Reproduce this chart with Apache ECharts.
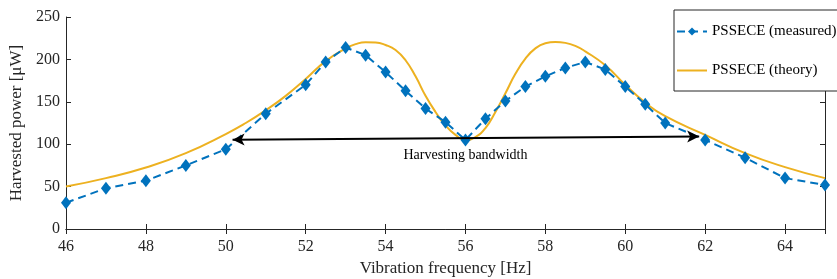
<!DOCTYPE html>
<html lang="en">
<head>
    <meta charset="UTF-8">
    <title>PSSECE harvested power</title>
    <style>
        html,body{
            margin: 0;
            padding: 0;
            width: 100%;
            height: 100%;
            background: #fff;
        }
        #chart{
            width: 837px;
            height: 279px;
        }
    </style>
</head>
<body>
<div id="chart"></div>
<script src="https://cdn.jsdelivr.net/npm/echarts@6/dist/echarts.min.js"></script>
<script type="text/javascript">
    // measured points [Hz, uW]
    var measuredFreq = [46, 47, 48, 49, 50, 51, 52, 52.5, 53, 53.5, 54, 54.5, 55, 55.5, 56, 56.5, 57, 57.5,
        58, 58.5, 59, 59.5, 60, 60.5, 61, 62, 63, 64, 65];
    var measuredPower = [31, 48, 57, 75, 94, 136, 170, 197, 214, 205, 185, 163, 142, 126, 105, 130, 151, 168,
        180, 190, 197, 188, 168, 147, 125, 105, 84, 60, 52];

    // theory curve
    var theoryFreq = [46, 47, 48, 49, 50, 50.5, 51, 51.5, 52, 52.5, 53, 53.25, 53.5, 53.75, 54, 54.25, 54.5, 54.75,
        55, 55.25, 55.5, 55.75, 56, 56.25, 56.5, 56.75, 57, 57.25, 57.5, 57.75, 58, 58.25, 58.5, 58.75,
        59, 59.5, 60, 60.5, 61, 62, 63, 64, 65];
    var theoryPower = [50, 60, 72.5, 89.5, 112, 125, 140, 157, 177, 198, 213, 218, 220.3, 220, 217, 211, 199, 180,
        157, 138, 122, 111, 105, 108.5, 119, 138, 160, 183, 201, 213, 219, 220.5, 219.5, 216,
        209.5, 193, 170, 149, 133, 111, 89.5, 73, 60];

    // bandwidth arrow ends and label
    var bandFrom = [50.17, 105.3];
    var bandTo = [61.85, 109.2];
    var bandLabelAt = [56, 87];

    var xTicks = { min: 46, max: 65, interval: 2 };
    var yTicks = { min: 0, max: 250, interval: 50 };

    function pairs(xs, ys) {
        var out = [];
        for (var i = 0; i < xs.length; i++) {
            out.push([xs[i], ys[i]]);
        }
        return out;
    }

    var fontSerif = '"Liberation Serif", "DejaVu Serif", serif';
    var ink = '#262626';

    var myChart = echarts.init(document.getElementById('chart'));
    var option = {
        backgroundColor: '#fff',
        animation: false,
        grid: { left: 66, right: 12, top: 17, bottom: 50, outerBoundsMode: 'none', containLabel: false },
        legend: {
            orient: 'vertical',
            left: 674,
            top: 10,
            padding: [14, 12, 13, 2],
            itemGap: 24,
            itemWidth: 30,
            itemHeight: 10,
            backgroundColor: '#fff',
            borderColor: ink,
            borderWidth: 1,
            textStyle: { fontFamily: fontSerif, fontSize: 15, color: '#000' },
            data: [
                { name: 'PSSECE (measured)' },
                { name: 'PSSECE (theory)', itemStyle: { opacity: 0 } }
            ]
        },
        xAxis: [
            {
                type: 'value',
                min: xTicks.min,
                max: xTicks.max,
                interval: xTicks.interval,
                name: 'Vibration frequency [Hz]',
                nameLocation: 'middle',
                nameGap: 31,
                nameTextStyle: { fontFamily: fontSerif, fontSize: 17, color: ink },
                axisLine: { show: true, lineStyle: { color: ink, width: 1 } },
                axisTick: { inside: true, length: 5, lineStyle: { color: ink } },
                axisLabel: { fontFamily: fontSerif, fontSize: 16, color: ink, margin: 10, showMaxLabel: false },
                splitLine: { show: false }
            },
            {
                type: 'value',
                position: 'top',
                min: xTicks.min,
                max: xTicks.max,
                interval: xTicks.interval,
                axisLine: { show: true, lineStyle: { color: ink, width: 1 } },
                axisTick: { inside: true, length: 5, lineStyle: { color: ink } },
                axisLabel: { show: false },
                splitLine: { show: false }
            }
        ],
        yAxis: [
            {
                type: 'value',
                min: yTicks.min,
                max: yTicks.max,
                interval: yTicks.interval,
                name: 'Harvested power [μW]',
                nameLocation: 'middle',
                nameGap: 40,
                nameTextStyle: { fontFamily: fontSerif, fontSize: 17, color: ink },
                axisLine: { show: true, lineStyle: { color: ink, width: 1 } },
                axisTick: { inside: true, length: 5, lineStyle: { color: ink } },
                axisLabel: { fontFamily: fontSerif, fontSize: 16, color: ink, margin: 6 },
                splitLine: { show: false }
            },
            {
                type: 'value',
                position: 'right',
                min: yTicks.min,
                max: yTicks.max,
                interval: yTicks.interval,
                axisLine: { show: true, lineStyle: { color: ink, width: 1 } },
                axisTick: { inside: true, length: 5, lineStyle: { color: ink } },
                axisLabel: { show: false },
                splitLine: { show: false }
            }
        ],
        series: [
            {
                name: 'PSSECE (theory)',
                type: 'line',
                smooth: 0.5,
                showSymbol: false,
                symbol: 'none',
                lineStyle: { color: '#EDB120', width: 2 },
                itemStyle: { color: '#EDB120' },
                z: 2,
                data: pairs(theoryFreq, theoryPower)
            },
            {
                name: 'PSSECE (measured)',
                type: 'line',
                symbol: 'diamond',
                symbolSize: [10, 13],
                lineStyle: { color: '#0072BD', width: 2, type: [8, 5] },
                itemStyle: { color: '#0072BD' },
                z: 3,
                data: pairs(measuredFreq, measuredPower),
                markLine: {
                    silent: true,
                    symbol: ['arrow', 'arrow'],
                    symbolSize: [9, 12],
                    lineStyle: { color: '#000', width: 2, type: 'solid' },
                    label: { show: false },
                    data: [[{ coord: bandFrom }, { coord: bandTo }]]
                },
                markPoint: {
                    silent: true,
                    symbol: 'circle',
                    symbolSize: 0,
                    label: {
                        show: true,
                        position: 'inside',
                        formatter: 'Harvesting bandwidth',
                        fontFamily: fontSerif,
                        fontSize: 14,
                        color: '#000'
                    },
                    data: [{ coord: bandLabelAt }]
                }
            }
        ]
    };

    myChart.setOption(option, true);
</script>
</body>
</html>
